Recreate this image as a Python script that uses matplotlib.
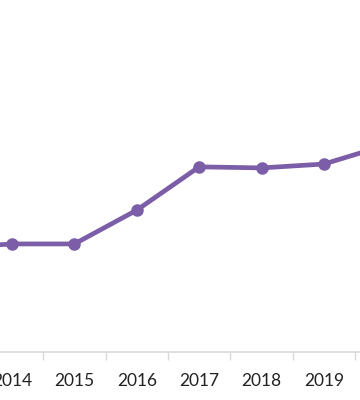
import numpy as np
import matplotlib.pyplot as plt

plt.rcParams["font.family"] = ["Lato", "DejaVu Sans"]

# visible years plus the neighbours that run off the crop edges
YEARS = [2013, 2014, 2015, 2016, 2017, 2018, 2019, 2020]
VALUES = [29.5, 30.7, 30.7, 40.3, 52.6, 52.3, 53.4, 58.8]

LINE_COLOR = "#7b5ea7"
AXIS_COLOR = "#d9d9d9"


def main():
    fig = plt.figure(figsize=(3.6, 4.0), dpi=100)
    ax = fig.add_axes([0, 0.12, 1, 0.88])

    x = np.arange(len(YEARS)) - 1  # 2014 -> 0
    ax.plot(x, VALUES, color=LINE_COLOR, linewidth=3.4, marker="o",
            markersize=8, solid_capstyle="round")

    ax.set_xlim(-0.192, 5.577)
    ax.set_ylim(0, 100)

    # labels under the categories, tick marks between them
    ax.set_xticks(x[1:-1])
    ax.set_xticklabels([str(y) for y in YEARS[1:-1]], fontsize=12.5, color="#222222")
    ax.set_xticks(x[1:-1] + 0.5, minor=True)
    ax.tick_params(axis="x", which="major", length=0, pad=15)
    ax.tick_params(axis="x", which="minor", length=6, width=1, color=AXIS_COLOR)

    ax.set_yticks([])
    for side in ["top", "left", "right"]:
        ax.spines[side].set_visible(False)
    ax.spines["bottom"].set_color(AXIS_COLOR)
    ax.spines["bottom"].set_linewidth(1.2)

    fig.savefig("out.png", dpi=100)
    plt.close(fig)


if __name__ == "__main__":
    main()
